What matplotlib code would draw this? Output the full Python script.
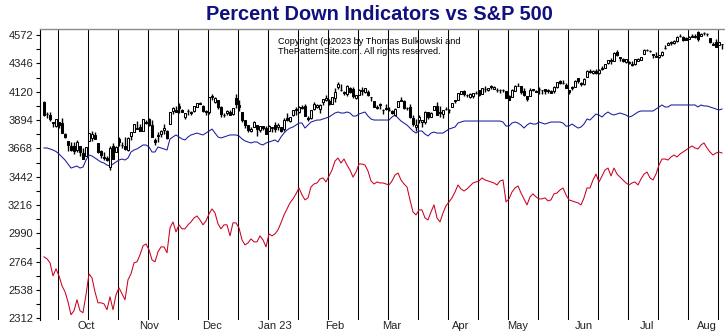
import numpy as np
import pandas as pd
import matplotlib
matplotlib.use("Agg")
import matplotlib.pyplot as plt

plt.rcParams["font.family"] = ["Liberation Sans", "DejaVu Sans"]

# ---- trading calendar -------------------------------------------------------
market_holidays = ["2022-11-24", "2022-12-26", "2023-01-02", "2023-01-16",
                   "2023-02-20", "2023-04-07", "2023-05-29", "2023-06-19",
                   "2023-07-04"]
dates = pd.bdate_range("2022-09-13", "2023-08-08")
dates = dates[~dates.isin(pd.to_datetime(market_holidays))]

month_labels = ["Oct", "Nov", "Dec", "Jan 23", "Feb", "Mar", "Apr", "May",
                "Jun", "Jul", "Aug"]

# ---- S&P 500 daily OHLC -----------------------------------------------------
opens = [
    4040, 3940, 3932, 3880, 3849, 3875, 3871, 3782, 3727, 3683, 3686, 3652, 3688, 3633,
    3610, 3726, 3754, 3777, 3707, 3645, 3598, 3591, 3520, 3690, 3638, 3746, 3696, 3689, 3657, 3763, 3799, 3825, 3835, 3808, 3882,
    3901, 3853, 3733, 3767, 3780, 3817, 3810, 3859, 3964, 3977, 4007, 3977, 3919, 3967, 3956, 3966, 4000, 4023, 4005, 3965, 3958,
    4087, 4041, 4052, 3996, 3934, 3947, 3955, 3940, 4069, 4016, 3958, 3891, 3853, 3810, 3840, 3853, 3816, 3843, 3829, 3805, 3829,
    3853, 3840, 3840, 3823, 3910, 3888, 3932, 3977, 3961, 3999, 4003, 3912, 3910, 3979, 4001, 3982, 4036, 4053, 4049, 4021,
    4070, 4158, 4136, 4119, 4105, 4153, 4144, 4068, 4096, 4127, 4119, 4114, 4077, 4046, 4001, 4018, 3973, 3993, 3977,
    3964, 3938, 3999, 4055, 4049, 3987, 3998, 3912, 3835, 3894, 3876, 3878, 3959, 3917, 3975, 4002, 3960, 3939, 3982, 3974, 3999, 4047, 4057,
    4102, 4129, 4094, 4081, 4085, 4110, 4131, 4101, 4140, 4137, 4164, 4140, 4131, 4133, 4133, 4127, 4087, 4076, 4129,
    4166, 4165, 4122, 4082, 4084, 4136, 4125, 4143, 4132, 4139, 4127, 4127, 4122, 4157, 4204, 4191, 4177, 4132, 4155, 4157, 4226, 4190,
    4184, 4241, 4283, 4271, 4285, 4268, 4305, 4308, 4352, 4366, 4365, 4440, 4396, 4381, 4355, 4355, 4344, 4338, 4367, 4375, 4422,
    4450, 4442, 4423, 4405, 4394, 4415, 4467, 4492, 4514, 4508, 4521, 4563, 4554, 4550, 4543, 4556, 4559, 4598, 4565, 4585,
    4578, 4551, 4495, 4514, 4491, 4498,
]
highs = [
    4045, 3961, 3959, 3880, 3900, 3876, 3907, 3790, 3727, 3716, 3717, 3737, 3688, 3672,
    3679, 3791, 3807, 3798, 3711, 3653, 3640, 3608, 3685, 3712, 3689, 3762, 3719, 3762, 3757, 3800, 3862, 3887, 3859, 3905, 3893,
    3911, 3894, 3750, 3797, 3814, 3859, 3818, 3958, 4001, 4009, 4028, 3983, 3954, 3979, 3962, 4004, 4033, 4034, 4012, 3976, 4080,
    4100, 4077, 4052, 4002, 3951, 3975, 3977, 3991, 4101, 4053, 3959, 3891, 3854, 3839, 3889, 3853, 3846, 3846, 3849, 3858, 3840,
    3879, 3874, 3840, 3907, 3951, 3920, 3970, 3997, 4003, 4016, 4018, 3923, 3973, 4039, 4023, 4019, 4061, 4095, 4063, 4077,
    4148, 4195, 4183, 4124, 4177, 4157, 4157, 4095, 4138, 4159, 4148, 4136, 4081, 4047, 4017, 4028, 3979, 4018, 3994,
    3971, 3990, 4048, 4079, 4051, 4000, 4018, 3935, 3906, 3937, 3894, 3965, 3959, 3956, 4009, 4039, 4007, 3973, 3997, 3979, 4030, 4057, 4110,
    4128, 4133, 4100, 4108, 4110, 4125, 4134, 4150, 4164, 4152, 4170, 4163, 4148, 4139, 4142, 4127, 4090, 4138, 4170,
    4186, 4165, 4149, 4083, 4148, 4143, 4131, 4154, 4133, 4143, 4139, 4136, 4165, 4199, 4213, 4210, 4186, 4133, 4166, 4213, 4231, 4195,
    4232, 4290, 4299, 4289, 4300, 4298, 4323, 4340, 4375, 4391, 4439, 4449, 4400, 4390, 4382, 4367, 4363, 4384, 4390, 4398, 4458,
    4457, 4454, 4423, 4440, 4412, 4443, 4489, 4518, 4527, 4533, 4562, 4578, 4565, 4556, 4564, 4581, 4583, 4607, 4590, 4594,
    4585, 4551, 4520, 4540, 4519, 4503,
]
lows = [
    3930, 3912, 3888, 3837, 3839, 3827, 3789, 3750, 3648, 3644, 3623, 3641, 3611, 3584,
    3610, 3726, 3723, 3744, 3632, 3588, 3575, 3570, 3492, 3583, 3638, 3687, 3667, 3652, 3647, 3733, 3799, 3825, 3803, 3808, 3863,
    3843, 3758, 3698, 3721, 3760, 3786, 3745, 3859, 3944, 3956, 3954, 3955, 3906, 3935, 3933, 3956, 3999, 4020, 3956, 3937, 3943,
    4050, 4027, 3984, 3919, 3917, 3935, 3933, 3938, 3993, 3966, 3879, 3827, 3800, 3796, 3840, 3765, 3798, 3813, 3783, 3805, 3801,
    3795, 3816, 3802, 3810, 3888, 3878, 3925, 3937, 3954, 3985, 3928, 3886, 3899, 3972, 3990, 3949, 4013, 4049, 4015, 4020,
    4038, 4141, 4128, 4094, 4089, 4111, 4069, 4060, 4092, 4095, 4113, 4089, 4048, 3995, 3981, 3978, 3944, 3973, 3969,
    3939, 3928, 3999, 4044, 3981, 3975, 3908, 3847, 3809, 3874, 3838, 3864, 3901, 3917, 3972, 3937, 3917, 3909, 3970, 3952, 3999, 4032, 4056,
    4098, 4086, 4075, 4069, 4073, 4103, 4086, 4099, 4114, 4124, 4140, 4140, 4114, 4113, 4117, 4071, 4050, 4076, 4127,
    4164, 4099, 4088, 4048, 4084, 4124, 4115, 4099, 4099, 4099, 4110, 4110, 4113, 4149, 4180, 4180, 4146, 4103, 4135, 4155, 4192, 4166,
    4171, 4241, 4267, 4261, 4264, 4262, 4293, 4305, 4342, 4337, 4363, 4407, 4367, 4356, 4348, 4341, 4328, 4336, 4364, 4371, 4422,
    4442, 4437, 4385, 4398, 4390, 4408, 4457, 4491, 4494, 4504, 4515, 4558, 4528, 4532, 4542, 4553, 4548, 4528, 4563, 4573,
    4567, 4506, 4490, 4475, 4491, 4464,
]
closes = [
    3933, 3946, 3901, 3873, 3900, 3856, 3790, 3758, 3693, 3655, 3647, 3719, 3640, 3586,
    3678, 3791, 3783, 3745, 3640, 3612, 3589, 3577, 3670, 3583, 3678, 3720, 3695, 3666, 3753, 3797, 3859, 3831, 3807, 3901, 3872,
    3856, 3760, 3720, 3771, 3807, 3828, 3749, 3956, 3993, 3957, 3992, 3959, 3947, 3965, 3950, 4004, 4027, 4026, 3964, 3958, 4080,
    4077, 4072, 3999, 3941, 3934, 3964, 3934, 3991, 4020, 3995, 3896, 3852, 3818, 3822, 3878, 3822, 3845, 3829, 3783, 3849, 3840,
    3824, 3853, 3808, 3895, 3892, 3919, 3970, 3983, 3999, 3991, 3929, 3899, 3973, 4020, 4017, 4016, 4060, 4071, 4018, 4077,
    4119, 4180, 4136, 4111, 4164, 4118, 4082, 4090, 4137, 4136, 4148, 4090, 4079, 3997, 3991, 4012, 3970, 3982, 3970,
    3951, 3981, 4046, 4048, 3986, 3992, 3918, 3862, 3856, 3919, 3892, 3960, 3917, 3952, 4003, 3937, 3949, 3971, 3978, 3971, 4028, 4051, 4109,
    4125, 4101, 4090, 4105, 4109, 4109, 4092, 4146, 4138, 4151, 4155, 4155, 4130, 4134, 4137, 4072, 4056, 4135, 4169,
    4168, 4120, 4091, 4061, 4136, 4138, 4119, 4138, 4131, 4124, 4136, 4110, 4159, 4198, 4192, 4193, 4146, 4115, 4151, 4205, 4206, 4180,
    4221, 4282, 4274, 4284, 4268, 4294, 4299, 4339, 4369, 4373, 4426, 4410, 4389, 4366, 4382, 4348, 4329, 4378, 4377, 4396, 4450,
    4456, 4447, 4412, 4399, 4410, 4439, 4472, 4510, 4505, 4523, 4555, 4566, 4535, 4536, 4555, 4567, 4567, 4537, 4582, 4589,
    4577, 4513, 4502, 4478, 4518, 4499,
]

# ---- percent-down indicators (scaled to the price axis) ---------------------
blue_indicator = [
    3671, 3671, 3663, 3655, 3643, 3623, 3599, 3575, 3543, 3511,
    3519, 3527, 3511, 3519, 3575, 3615, 3607, 3591, 3575, 3559,
    3551, 3535, 3527, 3543, 3559, 3575, 3583, 3575, 3591, 3639,
    3655, 3663, 3679, 3695, 3695, 3679, 3639, 3639, 3679, 3671,
    3663, 3655, 3743, 3759, 3775, 3759, 3743, 3735, 3759, 3775,
    3782, 3790, 3782, 3775, 3790, 3806, 3822, 3790, 3759, 3751,
    3759, 3767, 3775, 3775, 3775, 3767, 3743, 3727, 3719, 3711,
    3719, 3719, 3703, 3695, 3711, 3719, 3727, 3735, 3719, 3759,
    3790, 3814, 3830, 3838, 3854, 3870, 3870, 3830, 3854, 3878,
    3886, 3894, 3894, 3902, 3910, 3918, 3934, 3950, 3958, 3950,
    3950, 3958, 3950, 3926, 3926, 3942, 3950, 3958, 3926, 3902,
    3894, 3894, 3894, 3894, 3894, 3894, 3918, 3934, 3910, 3886,
    3870, 3854, 3830, 3806, 3790, 3806, 3806, 3782, 3767, 3790,
    3798, 3790, 3790, 3790, 3806, 3822, 3830, 3838, 3870, 3878,
    3886, 3886, 3886, 3886, 3886, 3886, 3886, 3886, 3886, 3886,
    3886, 3886, 3886, 3878, 3846, 3846, 3870, 3878, 3870, 3854,
    3830, 3854, 3870, 3862, 3862, 3878, 3870, 3862, 3870, 3878,
    3878, 3878, 3878, 3870, 3846, 3846, 3862, 3846, 3830, 3838,
    3862, 3902, 3894, 3918, 3942, 3934, 3918, 3942, 3958, 3942,
    3934, 3942, 3950, 3942, 3934, 3918, 3926, 3942, 3958, 3966,
    3966, 3966, 3966, 3966, 3982, 3998, 4014, 3998, 3998, 4014,
    4014, 4014, 4014, 4014, 4014, 4014, 4014, 4014, 3998, 4014,
    4006, 4006, 3998, 3990, 3982, 3974, 3982,
]
red_indicator = [
    2803, 2787, 2755, 2651, 2707, 2651, 2572, 2524, 2444, 2341,
    2373, 2460, 2373, 2357, 2500, 2667, 2635, 2524, 2436, 2436,
    2428, 2381, 2484, 2381, 2500, 2556, 2508, 2460, 2620, 2667,
    2755, 2763, 2819, 2890, 2906, 2859, 2779, 2763, 2843, 2882,
    2882, 2835, 3034, 3081, 3002, 3058, 3026, 3026, 3058, 3081,
    3113, 3129, 3097, 3058, 3089, 3145, 3185, 3153, 3066, 3026,
    3058, 3058, 2970, 3074, 3074, 3034, 2938, 2898, 2914, 2946,
    2922, 2922, 2970, 2938, 2882, 2986, 2970, 2986, 3018, 3074,
    3137, 3185, 3233, 3265, 3305, 3352, 3297, 3257, 3273, 3360,
    3384, 3392, 3424, 3432, 3400, 3448, 3495, 3567, 3591, 3551,
    3583, 3535, 3495, 3439, 3479, 3543, 3543, 3535, 3487, 3408,
    3384, 3400, 3392, 3392, 3384, 3376, 3408, 3455, 3471, 3416,
    3384, 3360, 3257, 3161, 3137, 3177, 3177, 3113, 3097, 3161,
    3217, 3113, 3081, 3153, 3209, 3241, 3273, 3320, 3376, 3344,
    3328, 3344, 3368, 3392, 3400, 3408, 3432, 3416, 3408, 3400,
    3392, 3376, 3408, 3416, 3241, 3265, 3320, 3352, 3368, 3312,
    3265, 3217, 3281, 3305, 3281, 3265, 3265, 3273, 3249, 3257,
    3305, 3312, 3336, 3352, 3297, 3257, 3249, 3241, 3233, 3217,
    3273, 3352, 3352, 3416, 3463, 3400, 3448, 3495, 3511, 3448,
    3511, 3463, 3439, 3416, 3392, 3376, 3392, 3400, 3376, 3424,
    3463, 3479, 3432, 3416, 3463, 3535, 3583, 3583, 3575, 3599,
    3615, 3599, 3623, 3639, 3655, 3671, 3687, 3671, 3663, 3695,
    3711, 3671, 3639, 3615, 3631, 3639, 3631,
]

y_ticks = [2312, 2538, 2764, 2990, 3216, 3442, 3668, 3894, 4120, 4346, 4572]

opens = np.array(opens, float)
highs = np.array(highs, float)
lows = np.array(lows, float)
closes = np.array(closes, float)
n = len(closes)
assert len(dates) == n == len(opens) == len(highs) == len(lows)
assert len(blue_indicator) == n and len(red_indicator) == n
x = np.arange(n)

# ---- figure -----------------------------------------------------------------
fig = plt.figure(figsize=(7.25, 3.34), dpi=100)
ax = fig.add_axes([40 / 725, 14 / 334, 685 / 725, 291 / 334])
ax.set_xlim(-4 / 3, 227)
ax.set_ylim(2299, 4620)

# grid lines every ten sessions
for k in range(23):
    ax.axvline(4.67 + 10 * k, color="black", lw=0.75, zorder=1)

ax.plot(x, blue_indicator, color="#1a1aa0", lw=0.75, zorder=2)
ax.plot(x, red_indicator, color="#cc0022", lw=0.75, zorder=2)

# candlesticks: hollow for up days, filled for down days
up = closes >= opens
body_lo = np.minimum(opens, closes)
body_h = np.abs(closes - opens)
ax.vlines(x, lows, highs, color="black", lw=1.0, zorder=3)
ax.bar(x, body_h, bottom=body_lo, width=0.85,
       color=np.where(up, "white", "black"), edgecolor="black",
       linewidth=0.75, zorder=4)

# axes styling
for side in ("right", "bottom"):
    ax.spines[side].set_visible(False)
ax.spines["top"].set_color("#8c8c8c")
ax.spines["top"].set_linewidth(1.0)
ax.spines["left"].set_color("black")
ax.spines["left"].set_linewidth(0.8)

ax.set_yticks(y_ticks)
ax.set_yticks([(a + b) / 2 for a, b in zip(y_ticks[:-1], y_ticks[1:])], minor=True)
ax.tick_params(axis="y", which="both", direction="out", length=3, width=0.8,
               labelsize=8, pad=2, labelcolor="#222222")

month_starts = [i for i in range(1, n) if dates[i].month != dates[i - 1].month]
ax.set_xticks(month_starts)
ax.set_xticklabels(month_labels[:len(month_starts)])
ax.tick_params(axis="x", length=0, pad=1, labelsize=8, labelcolor="#222222")

fig.text(379 / 725, 1 - 15 / 334, "Percent Down Indicators vs S&P 500",
         ha="center", va="center", fontsize=14.4, fontweight="bold",
         color="#10107f")
fig.text(278 / 725, 1 - 41 / 334, "Copyright (c)2023 by Thomas Bulkowski and",
         ha="left", va="center", fontsize=6.6, color="black")
fig.text(278 / 725, 1 - 52 / 334, "ThePatternSite.com. All rights reserved.",
         ha="left", va="center", fontsize=6.6, color="black")

fig.savefig("out.png", dpi=100)
